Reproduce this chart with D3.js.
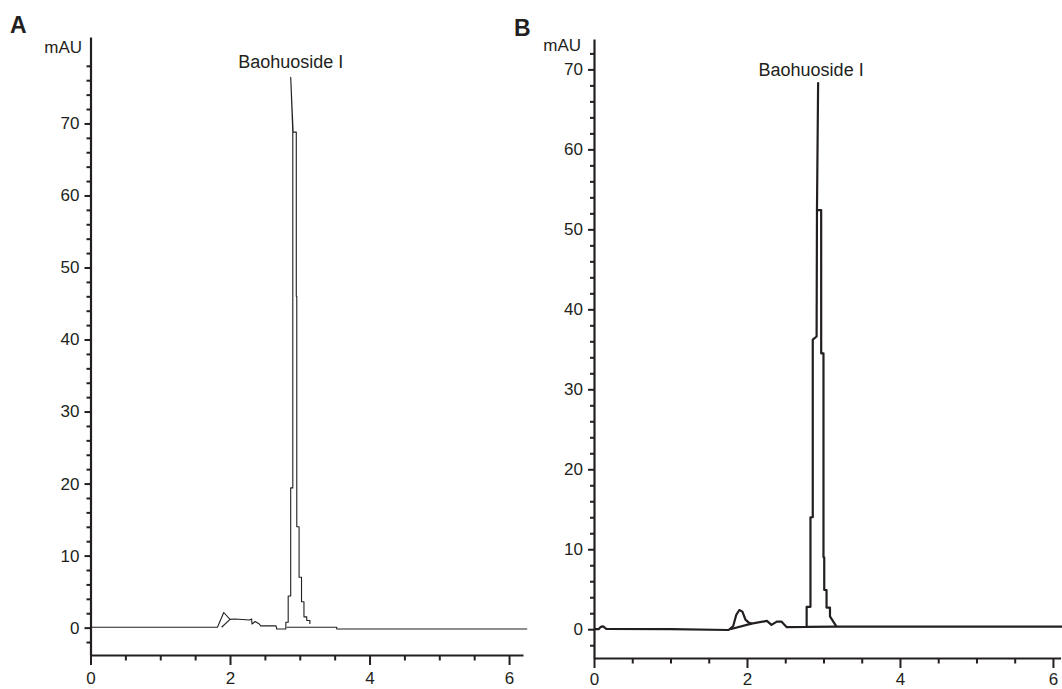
<!DOCTYPE html>
<html>
<head>
<meta charset="utf-8">
<script src="https://cdn.jsdelivr.net/npm/d3@7"></script>
<style>
  body { margin: 0; background: #fff; }
  svg { font-family: "Liberation Sans", Arial, sans-serif; }
</style>
</head>
<body>
<div id="chart"></div>
<script>
// HPLC chromatograms, points are [time (min), absorbance (mAU)]

// panel A trace
let traceA = [
  [0, 0.05], [1.82, 0.05], [1.91, 2.1], [2.0, 1.15], [2.07, 1.2], [2.28, 1.05],
  [2.31, 1.2], [2.315, 0.5], [2.36, 0.85], [2.42, 0.5], [2.44, 0.25], [2.66, 0.25],
  [2.67, -0.2], [2.80, -0.2], [2.80, 0.75], [2.834, 0.75], [2.834, 4.4], [2.87, 4.4],
  [2.87, 19.4], [2.90, 19.4], [2.90, 68.8], [2.87, 76.4], [2.905, 68.8], [2.95, 68.8],
  [2.95, 46], [2.957, 46], [2.957, 14], [2.99, 14], [2.99, 7], [3.025, 7],
  [3.025, 3.6], [3.06, 3.6], [3.06, 1.5], [3.1, 1.5], [3.1, 1.0], [3.145, 1.0], [3.145, 0.5]
];
// panel A baseline / integration lines
let integA = [
  [[1.88, 0.05], [2.0, 1.15]],
  [[2.81, 0.06], [3.53, 0.06], [3.53, -0.2], [6.26, -0.2]]
];

// panel B trace
let traceB = [
  [0, 0], [0.06, 0], [0.09, 0.3], [0.12, 0.35], [0.16, 0.05], [1.0, 0], [1.76, -0.1],
  [1.82, 0.4], [1.86, 1.8], [1.9, 2.4], [1.94, 2.2], [1.98, 1.2], [2.02, 0.85], [2.06, 0.7],
  [2.26, 1.04], [2.32, 0.54], [2.39, 0.95], [2.45, 0.95], [2.52, 0.25], [2.78, 0.3],
  [2.78, 2.8], [2.83, 2.8], [2.83, 14], [2.86, 14], [2.86, 36.2], [2.91, 36.6],
  [2.915, 52.4], [2.93, 68.3], [2.915, 52.4], [2.97, 52.4], [2.97, 34.5], [3.0, 34.5],
  [3.0, 9], [3.01, 9], [3.01, 4.9], [3.04, 4.9], [3.04, 2.7], [3.085, 2.7], [3.085, 1.6], [3.17, 0.33]
];
// panel B baseline / integration lines
let integB = [
  [[1.78, 0], [2.06, 0.7]],
  [[2.78, 0.3], [3.17, 0.33], [6.13, 0.33]]
];

let xTicks = [0, 2, 4, 6];
let yTicksA = [0, 10, 20, 30, 40, 50, 60, 70];
let yTicksB = [0, 10, 20, 30, 40, 50, 60, 70];
let peakName = "Baohuoside I";
let peakA = [2.87, 76.4];
let peakB = [2.93, 68.3];
let unit = "mAU";

let svgWidth = 1062;
let svgHeight = 689;
let ink = "#231f20";

let svg = d3.select("#chart")
  .append("svg")
  .attr("width", svgWidth)
  .attr("height", svgHeight);

let panels = [
  {
    name: "A", trace: traceA, integ: integA, yTicks: yTicksA, peak: peakA,
    x: d3.scaleLinear().domain([0, 6.2]).range([90.5, 523]),
    y: d3.scaleLinear().domain([-3.8, 82]).range([655, 37]),
    lineWidth: 1.1, yPad: 5, xPad: 7, minorTop: 80,
    letterPos: [10, 33], unitPos: [82, 53], labelDx: 0, labelDy: -9
  },
  {
    name: "B", trace: traceB, integ: integB, yTicks: yTicksB, peak: peakB,
    x: d3.scaleLinear().domain([0, 6.1]).range([594, 1060.6]),
    y: d3.scaleLinear().domain([-3.6, 73.8]).range([658, 39]),
    lineWidth: 2.2, yPad: 5, xPad: 5, minorTop: 72,
    letterPos: [514, 36], unitPos: [581, 51], labelDx: -7, labelDy: -7
  }
];

panels.forEach(function(p) {
  let g = svg.append("g");
  let x0 = p.x.range()[0];
  let yBottom = p.y.range()[0];

  // minor ticks first, so the main axes draw on top
  let yMinor = d3.range(-2, p.minorTop + 0.1, 2).filter(v => v % 10 !== 0);
  g.append("g")
    .attr("transform", `translate(${x0},0)`)
    .call(d3.axisLeft(p.y).tickValues(yMinor).tickSize(4).tickFormat(""))
    .call(a => a.select(".domain").remove());

  let xMinor = d3.range(0.5, p.x.domain()[1], 0.5).filter(v => v % 2 !== 0);
  g.append("g")
    .attr("transform", `translate(0,${yBottom})`)
    .call(d3.axisBottom(p.x).tickValues(xMinor).tickSize(5.5).tickFormat(""))
    .call(a => a.select(".domain").remove());

  // y axis
  g.append("g")
    .attr("class", "yaxis")
    .attr("transform", `translate(${x0},0)`)
    .call(d3.axisLeft(p.y).tickValues(p.yTicks).tickSize(6).tickSizeOuter(0)
      .tickPadding(p.yPad).tickFormat(d3.format("d")));

  // x axis
  g.append("g")
    .attr("class", "xaxis")
    .attr("transform", `translate(0,${yBottom})`)
    .call(d3.axisBottom(p.x).tickValues(xTicks).tickSize(10).tickSizeOuter(0)
      .tickPadding(p.xPad).tickFormat(d3.format("d")));

  g.selectAll(".tick line").attr("stroke", ink).attr("stroke-width", 2);
  g.selectAll(".domain").attr("stroke", ink).attr("stroke-width", 2.2);
  g.selectAll(".tick text")
    .attr("fill", ink)
    .style("font-size", "17px")
    .style("font-family", "'Liberation Sans', Arial, sans-serif");

  // trace and baseline lines
  let line = d3.line().x(d => p.x(d[0])).y(d => p.y(d[1]));

  g.append("path")
    .datum(p.trace)
    .attr("d", line)
    .attr("fill", "none")
    .attr("stroke", ink)
    .attr("stroke-width", p.lineWidth)
    .attr("stroke-linejoin", "round");

  g.selectAll(".integ")
    .data(p.integ)
    .enter()
    .append("path")
    .attr("class", "integ")
    .attr("d", line)
    .attr("fill", "none")
    .attr("stroke", ink)
    .attr("stroke-width", p.lineWidth)
    .attr("stroke-linejoin", "round");

  // peak label
  g.append("text")
    .attr("x", p.x(p.peak[0]) + p.labelDx)
    .attr("y", p.y(p.peak[1]) + p.labelDy)
    .attr("text-anchor", "middle")
    .attr("fill", ink)
    .style("font-size", "18px")
    .text(peakName);

  // unit label
  g.append("text")
    .attr("x", p.unitPos[0])
    .attr("y", p.unitPos[1])
    .attr("text-anchor", "end")
    .attr("fill", ink)
    .style("font-size", "17px")
    .text(unit);

  // panel letter
  g.append("text")
    .attr("x", p.letterPos[0])
    .attr("y", p.letterPos[1])
    .attr("fill", ink)
    .style("font-size", "23px")
    .style("font-weight", "bold")
    .text(p.name);
});
</script>
</body>
</html>
